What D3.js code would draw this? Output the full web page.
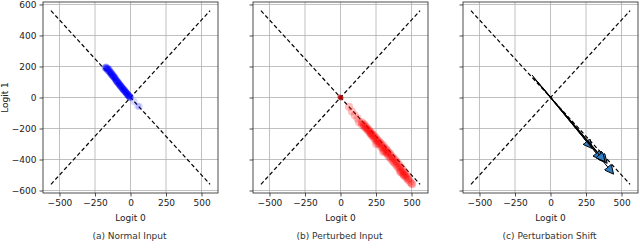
<!DOCTYPE html>
<html>
<head>
<meta charset="utf-8">
<script src="https://cdn.jsdelivr.net/npm/d3@7"></script>
<style>
  body { margin: 0; background: #fff; }
  text { font-family: "DejaVu Sans", sans-serif; }
</style>
</head>
<body>
<div id="chart"></div>
<script>
// tick labels / limits
var xTicks = [-500, -250, 0, 250, 500];
var yTicks = [-600, -400, -200, 0, 200, 400, 600];
var refEnds = [-560, 560];
var captions = ["(a) Normal Input", "(b) Perturbed Input", "(c) Perturbation Shift"];

// (a) normal input logits
var normalX = [-178,-172,-170,-165,-162,-158,-155,-150,-148,-145,-140,-138,-135,-130,-128,-125,-120,-118,-115,-110,-108,-105,-100,-98,-95,-90,-88,-85,-80,-78,-75,-70,-68,-65,-60,-58,-55,-50,-48,-45,-40,-38,-35,-30,-28,-25,-20,-18,-15,-10,-8,-5,0,25,50,62];
var normalY = [192,196,185,190,178,186,172,180,165,170,160,150,158,145,152,138,140,130,132,122,128,115,112,104,108,98,92,96,88,82,80,76,70,72,64,60,58,52,48,50,42,38,36,32,28,26,20,16,15,10,6,4,0,-25,-55,-58];

// (b) perturbed input logits
var pertX = [0,-4,4,60,80,100,120,130,150,150,160,165,170,175,180,185,190,195,200,205,210,215,220,225,230,235,240,245,250,255,260,265,270,275,280,285,290,295,300,305,310,315,320,325,330,335,340,345,350,355,360,365,370,375,380,385,390,395,400,405,410,415,420,425,430,435,440,445,450,455,460,465,470,475,480,490,500,505,250,300,420,215,330,445];
var pertY = [0,4,-4,-60,-90,-115,-135,-160,-160,-175,-170,-185,-178,-195,-190,-205,-200,-215,-210,-228,-220,-240,-232,-250,-242,-262,-250,-272,-262,-282,-272,-295,-282,-305,-292,-318,-302,-328,-312,-340,-322,-350,-332,-362,-342,-372,-355,-385,-365,-395,-378,-408,-388,-418,-398,-428,-410,-440,-420,-450,-432,-462,-445,-475,-455,-488,-470,-498,-482,-510,-495,-520,-510,-532,-525,-545,-555,-560,-300,-350,-480,-230,-355,-500];

// (c) shift arrows: start -> end
var shiftX0 = [-130,-110,-90,-60,-120,-20];
var shiftY0 = [145,120,100,70,130,25];
var shiftX1 = [290,375,395,440,360,380];
var shiftY1 = [-325,-405,-420,-490,-400,-410];

var W = 640, H = 248;
var panelLeft = [43, 253, 463];
var pw = 175, ph = 191, padTop = 2;

var svg = d3.select("#chart").append("svg")
    .attr("width", W)
    .attr("height", H);

var defs = svg.append("defs");
defs.append("marker")
    .attr("id", "head")
    .attr("viewBox", "0 0 10 10")
    .attr("refX", 9)
    .attr("refY", 5)
    .attr("markerUnits", "userSpaceOnUse")
    .attr("markerWidth", 10)
    .attr("markerHeight", 9)
    .attr("orient", "auto")
    .append("path")
    .attr("d", "M0,0L10,5L0,10Z")
    .attr("fill", "#2f7ec4")
    .attr("stroke", "#000")
    .attr("stroke-width", 1);

var x = d3.scaleLinear().domain([-616, 616]).range([0, pw]);
var y = d3.scaleLinear().domain([-616, 616]).range([ph, 0]);

var minus = d => d3.format("d")(d).replace("-", "\u2212");

panelLeft.forEach(function(left, i) {
    var g = svg.append("g")
        .attr("transform", `translate(${left}, ${padTop})`);

    // grid
    g.selectAll(".gx").data(xTicks).enter().append("line")
        .attr("x1", d => x(d)).attr("x2", d => x(d))
        .attr("y1", 0).attr("y2", ph)
        .attr("stroke", "#b0b0b0").attr("stroke-width", 0.8);
    g.selectAll(".gy").data(yTicks).enter().append("line")
        .attr("x1", 0).attr("x2", pw)
        .attr("y1", d => y(d)).attr("y2", d => y(d))
        .attr("stroke", "#b0b0b0").attr("stroke-width", 0.8);

    // reference diagonals
    g.append("line")
        .attr("x1", x(refEnds[0])).attr("y1", y(refEnds[0]))
        .attr("x2", x(refEnds[1])).attr("y2", y(refEnds[1]))
        .attr("stroke", "#000").attr("stroke-width", 1.2)
        .attr("stroke-dasharray", "4,2.5");
    g.append("line")
        .attr("x1", x(refEnds[0])).attr("y1", y(refEnds[1]))
        .attr("x2", x(refEnds[1])).attr("y2", y(refEnds[0]))
        .attr("stroke", "#000").attr("stroke-width", 1.2)
        .attr("stroke-dasharray", "4,2.5");

    if (i == 0) {
        g.selectAll("circle").data(normalX).enter().append("circle")
            .attr("cx", d => x(d))
            .attr("cy", (d, j) => y(normalY[j]))
            .attr("r", 3.5)
            .attr("fill", "#0000ff")
            .attr("fill-opacity", (d, j) => d > 0 ? 0.15 : 0.3);
    } else if (i == 1) {
        g.selectAll("circle").data(pertX).enter().append("circle")
            .attr("cx", d => x(d))
            .attr("cy", (d, j) => y(pertY[j]))
            .attr("r", (d, j) => j < 3 ? 2.5 : 4)
            .attr("fill", (d, j) => j < 3 ? "#b00000" : "#ff0000")
            .attr("fill-opacity", (d, j) => j < 3 ? 0.6 : 0.25);
    } else {
        g.selectAll(".arrow").data(shiftX0).enter().append("line")
            .attr("x1", d => x(d))
            .attr("y1", (d, j) => y(shiftY0[j]))
            .attr("x2", (d, j) => x(shiftX1[j]))
            .attr("y2", (d, j) => y(shiftY1[j]))
            .attr("stroke", "#000")
            .attr("stroke-width", 1)
            .attr("marker-end", "url(#head)");
    }

    // axes
    var bottomAxis = d3.axisBottom(x).tickValues(xTicks).tickSize(3.5).tickPadding(3).tickFormat(minus);
    var leftAxis = d3.axisLeft(y).tickValues(yTicks).tickSize(3.5).tickPadding(3).tickFormat(minus);

    var bx = g.append("g").attr("transform", `translate(0, ${ph})`).call(bottomAxis);
    var ly = g.append("g").call(leftAxis);
    if (i > 0) ly.selectAll("text").remove();
    [bx, ly].forEach(function(a) {
        a.select(".domain").remove();
        a.selectAll("line").attr("stroke", "#222").attr("stroke-width", 0.8);
        a.selectAll("text").attr("font-size", 9).attr("fill", "#222")
            .style("font-family", "DejaVu Sans");
    });

    // frame
    g.append("rect")
        .attr("width", pw).attr("height", ph)
        .attr("fill", "none")
        .attr("stroke", "#222").attr("stroke-width", 0.8);

    g.append("text")
        .attr("x", pw / 2).attr("y", ph + 28)
        .attr("text-anchor", "middle")
        .attr("font-size", 9).attr("fill", "#222")
        .text("Logit 0");

    g.append("text")
        .attr("x", pw / 2 - 1).attr("y", ph + 46)
        .attr("text-anchor", "middle")
        .attr("font-size", 9).attr("fill", "#333")
        .text(captions[i]);
});

svg.append("text")
    .attr("transform", "rotate(-90)")
    .attr("x", -(padTop + ph / 2))
    .attr("y", 8)
    .attr("text-anchor", "middle")
    .attr("font-size", 9).attr("fill", "#222")
    .text("Logit 1");
</script>
</body>
</html>
